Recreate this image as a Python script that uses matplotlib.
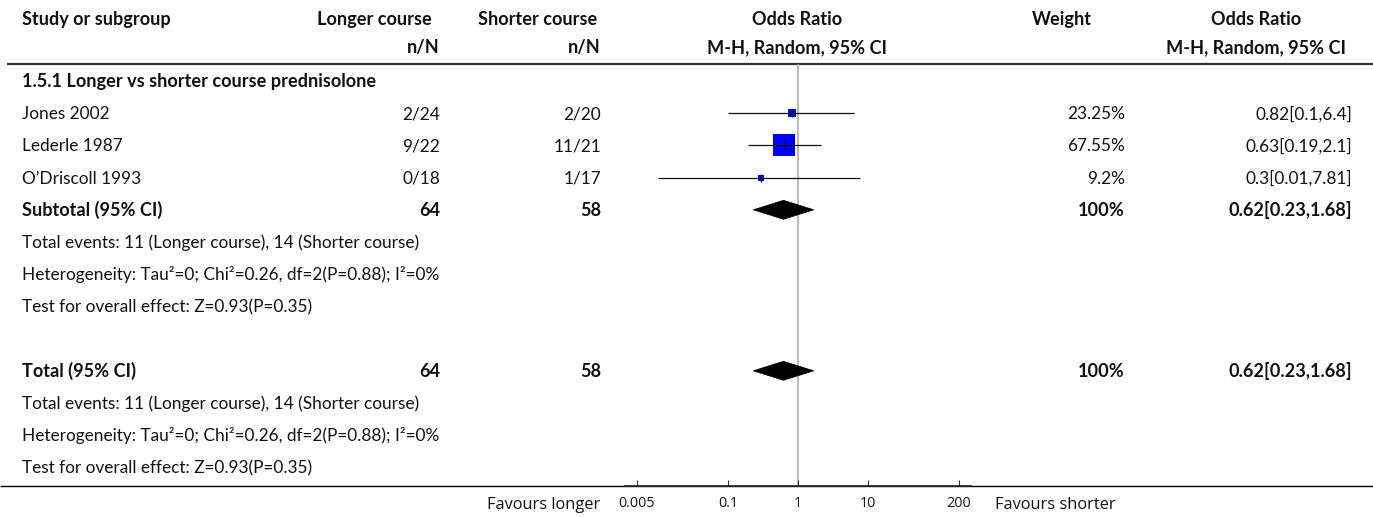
import matplotlib
matplotlib.use("Agg")
import matplotlib.pyplot as plt
from matplotlib.patches import Polygon
from matplotlib.ticker import NullLocator

# ---------------- data ----------------
studies = ["Jones 2002", "Lederle 1987", "O’Driscoll 1993"]
longer_events = [2, 9, 0]
longer_total = [24, 22, 18]
shorter_events = [2, 11, 1]
shorter_total = [20, 21, 17]
odds_ratio = [0.82, 0.63, 0.3]
ci_lower = [0.1, 0.19, 0.01]
ci_upper = [6.4, 2.1, 7.81]
weights = [23.25, 67.55, 9.2]
pooled_or = 0.62
pooled_lower = 0.23
pooled_upper = 1.68
tick_values = [0.005, 0.1, 1, 10, 200]
tick_labels = ["0.005", "0.1", "1", "10", "200"]
subgroup_title = "1.5.1 Longer vs shorter course prednisolone"
total_events_text = "Total events: 11 (Longer course), 14 (Shorter course)"
heterogeneity_text = "Heterogeneity: Tau²=0; Chi²=0.26, df=2(P=0.88); I²=0%"
overall_effect_text = "Test for overall effect: Z=0.93(P=0.35)"
left_label = "Favours longer"
right_label = "Favours shorter"

# ---------------- layout ----------------
W, H = 1373, 517
FONT = "Lato"
TICK_FONT = "Open Sans"
TXT = "#111111"
FS = 12.4
FS_BOLD = 13.1

ROW0, STEP = 81, 32.2
X_STUDY, X_LONG, X_SHORT, X_OR_MID, X_WEIGHT, X_CI = 22, 440, 601, 797, 1125, 1352
AX_LEFT, AX_RIGHT, AX_TOP, AX_BOTTOM = 625, 971, 64, 486

fig = plt.figure(figsize=(W / 100, H / 100), dpi=100)
bg = fig.add_axes([0, 0, 1, 1])
bg.set_xlim(0, W)
bg.set_ylim(H, 0)
bg.axis("off")


def row_y(i):
    return ROW0 + i * STEP


def put(x, y, s, ha="left", bold=False):
    bg.text(x, y + 6, s, ha=ha, va="baseline",
            fontsize=FS_BOLD if bold else FS,
            fontweight="bold" if bold else "normal", family=FONT, color=TXT)


# header
put(X_STUDY, 19, "Study or subgroup", bold=True)
put(X_LONG - 8, 19, "Longer course", ha="right", bold=True)
put(X_LONG, 47, "n/N", ha="right", bold=True)
put(X_SHORT - 4, 19, "Shorter course", ha="right", bold=True)
put(X_SHORT, 47, "n/N", ha="right", bold=True)
put(X_OR_MID, 19, "Odds Ratio", ha="center", bold=True)
put(X_OR_MID, 47, "M-H, Random, 95% CI", ha="center", bold=True)
put(1062, 19, "Weight", ha="center", bold=True)
put(1256, 19, "Odds Ratio", ha="center", bold=True)
put(1256, 47, "M-H, Random, 95% CI", ha="center", bold=True)
bg.hlines(AX_TOP, 7, W, color="#333333", lw=1.6)

# subgroup block
put(X_STUDY, row_y(0), subgroup_title, bold=True)


def fmt(v):
    return f"{v:g}"


for i, name in enumerate(studies):
    y = row_y(i + 1)
    put(X_STUDY, y, name)
    put(X_LONG, y, f"{longer_events[i]}/{longer_total[i]}", ha="right")
    put(X_SHORT, y, f"{shorter_events[i]}/{shorter_total[i]}", ha="right")
    put(X_WEIGHT, y, f"{fmt(weights[i])}%", ha="right")
    put(X_CI, y, f"{fmt(odds_ratio[i])}[{fmt(ci_lower[i])},{fmt(ci_upper[i])}]", ha="right")

pooled_text = f"{fmt(pooled_or)}[{fmt(pooled_lower)},{fmt(pooled_upper)}]"
total_weight = f"{fmt(round(sum(weights)))}%"
for r, label in [(4, "Subtotal (95% CI)"), (9, "Total (95% CI)")]:
    y = row_y(r)
    put(X_STUDY, y, label, bold=True)
    put(X_LONG, y, str(sum(longer_total)), ha="right", bold=True)
    put(X_SHORT, y, str(sum(shorter_total)), ha="right", bold=True)
    put(X_WEIGHT, y, total_weight, ha="right", bold=True)
    put(X_CI, y, pooled_text, ha="right", bold=True)
    put(X_STUDY, row_y(r + 1), total_events_text)
    put(X_STUDY, row_y(r + 2), heterogeneity_text)
    put(X_STUDY, row_y(r + 3), overall_effect_text)

# bottom rule and direction labels
bg.hlines(AX_BOTTOM, 0, W, color="black", lw=1.0)
bg.text(600, 505, left_label, ha="right", va="center", fontsize=11.8,
        family=TICK_FONT, color=TXT)
bg.text(995, 505, right_label, ha="left", va="center", fontsize=11.8,
        family=TICK_FONT, color=TXT)

# ---------------- forest panel ----------------
ax = fig.add_axes([AX_LEFT / W, (H - AX_BOTTOM) / H,
                   (AX_RIGHT - AX_LEFT) / W, (AX_BOTTOM - AX_TOP) / H])
ax.set_xscale("log")
ax.set_xlim(10 ** -2.471, 10 ** 2.471)
ax.set_ylim(AX_BOTTOM, AX_TOP)
ax.patch.set_alpha(0)
for side in ("top", "left", "right"):
    ax.spines[side].set_visible(False)
ax.spines["bottom"].set_linewidth(1.2)
ax.spines["bottom"].set_color("#222222")
ax.set_yticks([])
ax.set_xticks(tick_values)
ax.set_xticklabels(tick_labels, family=TICK_FONT, fontsize=10.4, color=TXT)
ax.xaxis.set_minor_locator(NullLocator())
ax.tick_params(axis="x", direction="in", length=4, width=0.8, colors="#333333",
               pad=7.5, labelcolor=TXT)

# line of no effect
ax.axvline(1, color="#a8a8a8", lw=1.1, zorder=1)

# study estimates
for i in range(len(studies)):
    y = row_y(i + 1)
    side_px = max(6.0, 0.33 * weights[i])
    ax.plot([odds_ratio[i]], [y], marker="s", markersize=side_px * 0.72,
            color="#0000ff", markeredgewidth=0, zorder=2)
    ax.hlines(y, ci_lower[i], ci_upper[i], color="#111111", lw=0.9, zorder=3)
    ax.vlines(odds_ratio[i], y - 4, y + 4, color="#111111", lw=1.0, zorder=3)

# pooled diamonds
for r in (4, 9):
    y = row_y(r)
    ax.add_patch(Polygon([(pooled_lower, y), (pooled_or, y - 9.5),
                          (pooled_upper, y), (pooled_or, y + 9.5)],
                         closed=True, facecolor="black", edgecolor="black",
                         lw=0.5, zorder=3))

fig.savefig("out.png", dpi=100)
